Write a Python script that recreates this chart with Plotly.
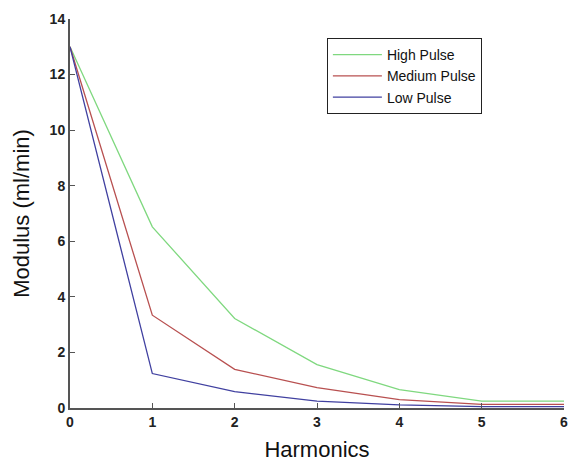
import plotly.graph_objects as go

harmonics = [0, 1, 2, 3, 4, 5, 6]
high_pulse = [13.0, 6.52, 3.22, 1.56, 0.66, 0.25, 0.25]
medium_pulse = [13.0, 3.34, 1.39, 0.73, 0.30, 0.13, 0.13]
low_pulse = [13.0, 1.24, 0.59, 0.25, 0.11, 0.05, 0.05]

series = [
    ("High Pulse", high_pulse, "#7fd87f"),
    ("Medium Pulse", medium_pulse, "#b85050"),
    ("Low Pulse", low_pulse, "#4040a0"),
]

fig = go.Figure()
for name, vals, col in series:
    fig.add_trace(go.Scatter(x=harmonics, y=vals, mode="lines", name=name,
                             line=dict(color=col, width=1.3)))

axis_common = dict(showgrid=False, zeroline=False, showline=True,
                   linecolor="#555555", linewidth=2, ticks="inside",
                   ticklen=5, tickcolor="#555555", automargin=False,
                   tickfont=dict(family="Arial, Liberation Sans", size=14, color="#222222",
                                 weight="bold"))

fig.update_layout(
    width=569, height=462,
    margin=dict(l=70, r=5, t=19, b=54),
    paper_bgcolor="white", plot_bgcolor="white",
    xaxis=dict(range=[0, 6], dtick=1, title=dict(text="Harmonics", standoff=13,
               font=dict(family="Arial, Liberation Sans", size=22, color="#111111")), **axis_common),
    yaxis=dict(range=[0, 14], dtick=2, title=dict(text="Modulus (ml/min)", standoff=14,
               font=dict(family="Arial, Liberation Sans", size=22, color="#111111")), **axis_common),
    legend=dict(x=0.52, y=0.951, xanchor="left", yanchor="top",
                bordercolor="#222222", borderwidth=1, bgcolor="white",
                font=dict(family="Arial, Liberation Sans", size=14, color="#111111"),
                tracegroupgap=0, itemwidth=49),
    showlegend=True,
)

fig.write_html("out.html")
